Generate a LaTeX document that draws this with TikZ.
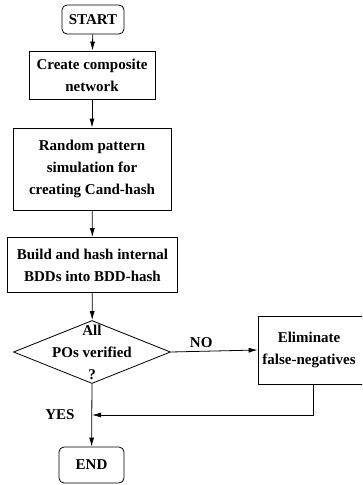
\documentclass[tikz,border=0pt]{standalone}
\usepackage{fontspec}
\setmainfont{Liberation Serif}
\usetikzlibrary{shapes.geometric,arrows.meta}
\tikzset{
  flowbox/.style={draw, align=center, inner sep=0pt, font=\bfseries\fontsize{15}{22}\selectfont},
  termbox/.style={flowbox, rounded corners=5pt},
  flowlabel/.style={font=\bfseries\fontsize{15}{22}\selectfont},
  >={Latex[length=9pt,width=5pt]}
}
\begin{document}
\begin{tikzpicture}[x=1pt, y=-1pt, line width=0.8pt]
\useasboundingbox (0,0) rectangle (362,485);
\clip (0,0) rectangle (362,485);
\node[termbox, minimum width=62pt, minimum height=29pt] (start) at (93,19.5) {START};
\node[flowbox, minimum width=126pt, minimum height=48pt] (create) at (92,75) {Create composite\\network};
\node[flowbox, minimum width=158pt, minimum height=82pt] (random) at (92,169) {Random pattern\\simulation for\\creating Cand-hash};
\node[flowbox, minimum width=170pt, minimum height=55pt] (build) at (92.5,265) {Build and hash internal\\BDDs into BDD-hash};
\node[draw, diamond, inner sep=0pt, minimum width=157pt, minimum height=63pt] (check) at (92,352) {};
\node[flowlabel, align=center] (checktext) at (check.center) {All\\POs verified\\?};
% right edge runs off the page
\node[flowbox, minimum width=124pt, minimum height=68pt] (elim) at (320,350) {};
\node[flowlabel, align=center] (elimtext) at (309,350) {Eliminate\\false-negatives};
\node[termbox, minimum width=65pt, minimum height=36pt] (end) at (91.5,465) {END};
\coordinate (join) at (92,415);
\node[flowlabel] (yes) at (60,415) {YES};
\draw[->] (start) -- (create);
\draw[->] (create) -- (random);
\draw[->] (random) -- (build);
\draw[->] (build) -- (check);
\draw[->] (check.east) -- node[flowlabel, above, pos=0.35] (no) {NO} (elim.west);
\draw[->] (check.south) -- (end);
\draw[->] ([xshift=-7pt]elim.south) |- (join);
\end{tikzpicture}
\end{document}
